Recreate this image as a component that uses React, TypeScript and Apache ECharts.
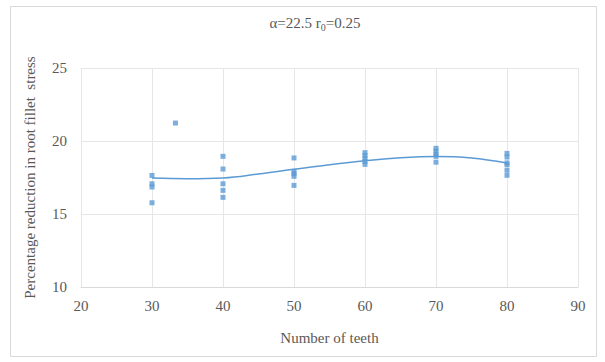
import React, { useEffect, useRef } from "react";
import * as echarts from "echarts";

// Measured points: [number of teeth, percentage reduction]
const teeth30: number[][] = [[30, 17.64], [30, 17.07], [30, 16.85], [30, 15.77]];
const teeth33: number[][] = [[33.3, 21.23]];
const teeth40: number[][] = [[40, 18.95], [40, 18.08], [40, 17.07], [40, 16.62], [40, 16.14]];
const teeth50: number[][] = [[50, 18.84], [50, 17.92], [50, 17.76], [50, 17.58], [50, 16.96]];
const teeth60: number[][] = [[60, 19.2], [60, 19.0], [60, 18.8], [60, 18.6], [60, 18.4]];
const teeth70: number[][] = [[70, 19.5], [70, 19.3], [70, 19.1], [70, 18.95], [70, 18.55]];
const teeth80: number[][] = [[80, 19.15], [80, 18.9], [80, 18.5], [80, 18.38], [80, 18.0], [80, 17.65]];

// Trendline
const trendX: number[] = [30, 35, 40, 45, 50, 55, 60, 65, 70, 75, 80];
const trendY: number[] = [17.46, 17.42, 17.47, 17.74, 18.06, 18.37, 18.64, 18.85, 18.94, 18.84, 18.5];

const xTicks = { min: 20, max: 90, interval: 10 };
const yTicks = { min: 10, max: 25, interval: 5 };

const BLUE = "#5B9BD5";
const GREY = "#595959";
const FONT = "Liberation Serif";

export default function App() {
  const ref = useRef<HTMLDivElement>(null);

  useEffect(() => {
    if (!ref.current) return;
    const chart = echarts.init(ref.current, undefined, { renderer: "svg" });
    const points = [
      ...teeth30, ...teeth33, ...teeth40, ...teeth50, ...teeth60, ...teeth70, ...teeth80,
    ];
    chart.setOption({
      animation: false,
      backgroundColor: "#ffffff",
      title: {
        text: "α=22.5 r{s|0}=0.25",
        left: 310,
        textAlign: "center",
        top: 9,
        textStyle: {
          fontFamily: FONT,
          fontSize: 15,
          fontWeight: "normal",
          color: GREY,
          rich: {
            s: { fontFamily: FONT, fontSize: 10, color: GREY, padding: [8, 0, 0, 0] },
          },
        },
      },
      graphic: [
        {
          type: "rect",
          shape: { x: 10.5, y: 6.5, width: 586, height: 350 },
          style: { fill: "none", stroke: "#D9D9D9", lineWidth: 1 },
          silent: true,
        },
      ],
      grid: { left: 81, right: 27, top: 68, bottom: 75 },
      xAxis: {
        type: "value",
        min: xTicks.min,
        max: xTicks.max,
        interval: xTicks.interval,
        name: "Number of teeth",
        nameLocation: "middle",
        nameGap: 43,
        nameTextStyle: { fontFamily: FONT, fontSize: 15, color: GREY },
        axisLine: { show: true, lineStyle: { color: "#D9D9D9" } },
        axisTick: { show: false },
        axisLabel: { fontFamily: FONT, fontSize: 15, color: GREY, margin: 11 },
        splitLine: { show: true, lineStyle: { color: "#E6E6E6" } },
      },
      yAxis: {
        type: "value",
        min: yTicks.min,
        max: yTicks.max,
        interval: yTicks.interval,
        name: "Percentage reduction in root fillet  stress",
        nameLocation: "middle",
        nameGap: 44,
        nameTextStyle: { fontFamily: FONT, fontSize: 15, color: GREY },
        axisLine: { show: false },
        axisTick: { show: false },
        axisLabel: { fontFamily: FONT, fontSize: 15, color: GREY, margin: 14 },
        splitLine: { show: true, lineStyle: { color: "#E6E6E6" } },
      },
      series: [
        {
          type: "line",
          data: trendX.map((x, i) => [x, trendY[i]]),
          smooth: 0.4,
          symbol: "none",
          lineStyle: { color: BLUE, width: 1.5 },
          z: 2,
        },
        {
          type: "scatter",
          data: points,
          symbol: "rect",
          symbolSize: 5,
          itemStyle: { color: BLUE },
          z: 3,
        },
      ],
    });
    return () => chart.dispose();
  }, []);

  return (
    <div
      ref={ref}
      style={{ position: "absolute", left: 0, top: 0, width: 605, height: 362 }}
    />
  );
}
